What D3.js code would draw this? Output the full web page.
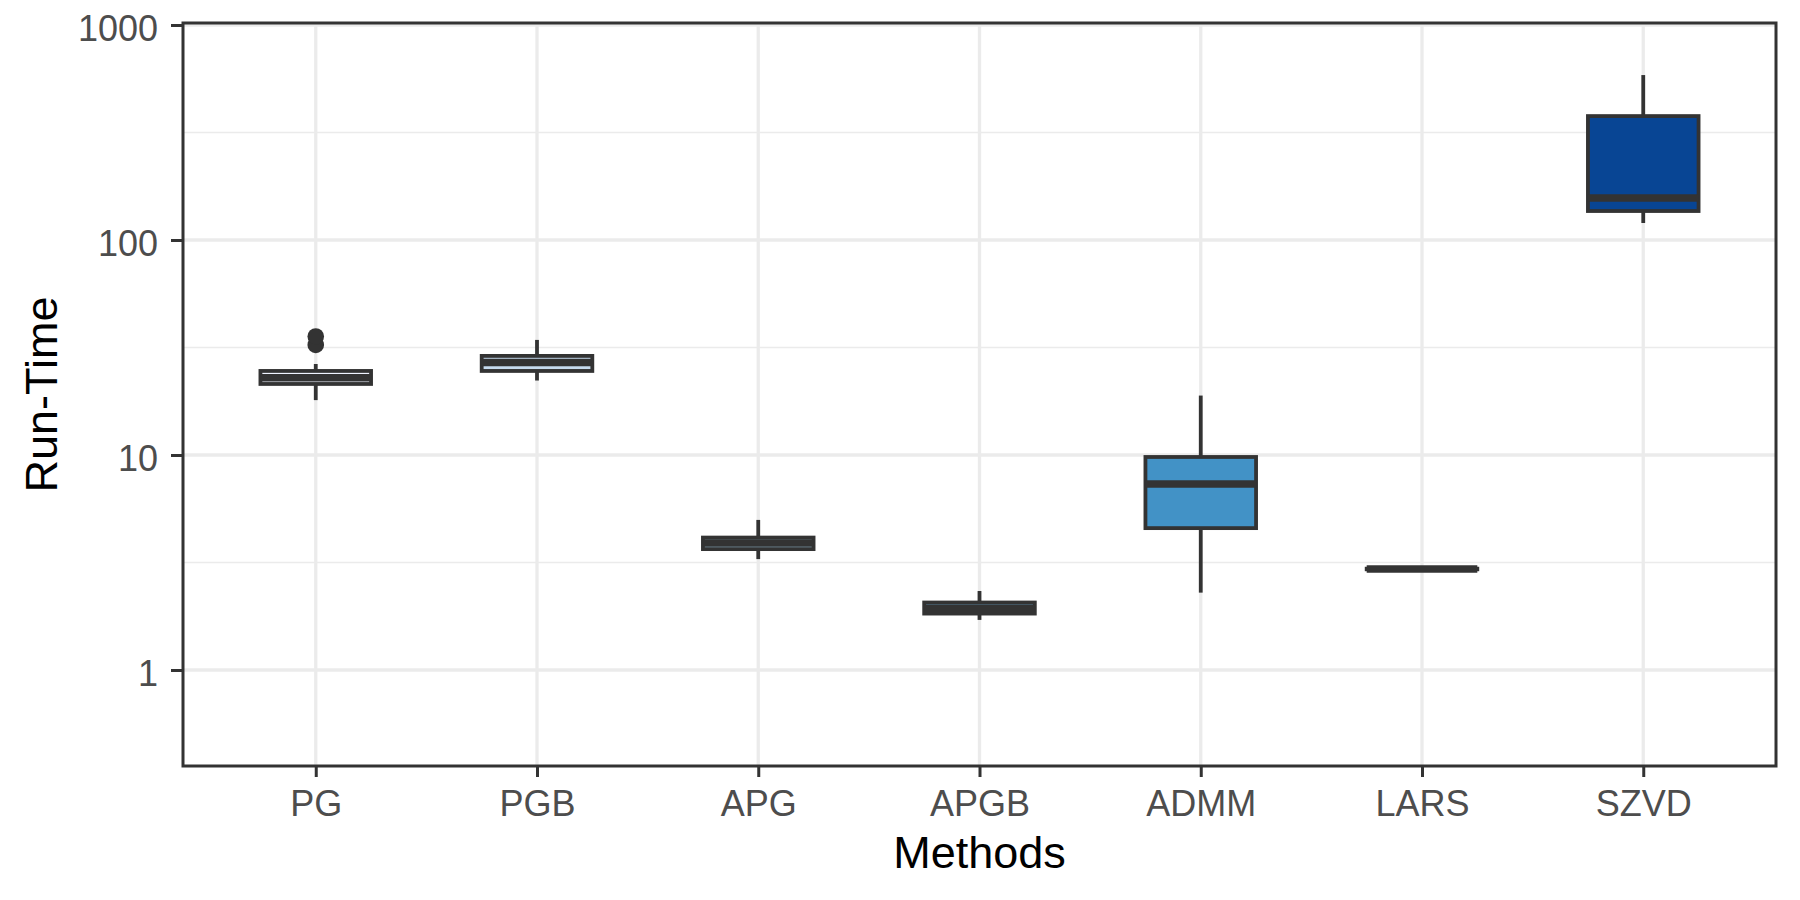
<!DOCTYPE html>
<html>
<head>
<meta charset="utf-8">
<script src="https://cdn.jsdelivr.net/npm/d3@7"></script>
<style>
  html, body { margin: 0; padding: 0; background: #fff; }
  svg text { font-family: "Liberation Sans", Arial, sans-serif; }
</style>
</head>
<body>
<script>
// box statistics (seconds, log scale)
const methods  = ["PG", "PGB", "APG", "APGB", "ADMM", "LARS", "SZVD"];
const fills    = ["#eff3ff", "#c6dbef", "#9ecae1", "#6baed6", "#4292c6", "#2171b5", "#084594"];
const lowers   = [18.0, 22.2, 3.28, 1.71, 2.29, 2.92, 120];
const q1s      = [21.4, 24.6, 3.65, 1.83, 4.57, 2.94, 136.4];
const medians  = [22.9, 26.9, 3.90, 1.94, 7.33, 2.95, 156.8];
const q3s      = [24.6, 28.9, 4.13, 2.06, 9.79, 2.96, 377];
const uppers   = [26.5, 34.3, 4.99, 2.33, 18.9, 2.98, 585];
const outliers = [[32.5, 35.6], [], [], [], [], [], []];
const yTicks   = [1, 10, 100, 1000];
const yMinor   = [Math.sqrt(10), Math.sqrt(1000), Math.sqrt(100000)];

const width = 1800, height = 900;
const pLeft = 183, pRight = 1776, pTop = 23, pBottom = 766;
const dark = "#333333";

const svg = d3.select("body").append("svg")
    .attr("width", width)
    .attr("height", height);

const x = d3.scalePoint()
    .domain(methods)
    .range([pLeft, pRight])
    .padding(0.6);
const y = d3.scaleLog()
    .domain([0.3577, 1021.6])
    .range([pBottom, pTop]);

const boxW = x.step() * 0.5;

// grid
svg.append("g").selectAll("line")
    .data(yMinor)
    .enter().append("line")
    .attr("x1", pLeft).attr("x2", pRight)
    .attr("y1", d => y(d)).attr("y2", d => y(d))
    .style("stroke", "#ebebeb").style("stroke-width", 1.7);
svg.append("g").selectAll("line")
    .data(yTicks)
    .enter().append("line")
    .attr("x1", pLeft).attr("x2", pRight)
    .attr("y1", d => y(d)).attr("y2", d => y(d))
    .style("stroke", "#ebebeb").style("stroke-width", 3.3);
svg.append("g").selectAll("line")
    .data(methods)
    .enter().append("line")
    .attr("x1", d => x(d)).attr("x2", d => x(d))
    .attr("y1", pTop).attr("y2", pBottom)
    .style("stroke", "#ebebeb").style("stroke-width", 3.3);

// boxes
const stats = methods.map((m, i) => ({
    m: m, fill: fills[i], lo: lowers[i], q1: q1s[i], med: medians[i], q3: q3s[i], hi: uppers[i], out: outliers[i]
}));

const boxes = svg.append("g").selectAll("g")
    .data(stats)
    .enter().append("g");

boxes.append("line")
    .attr("x1", d => x(d.m)).attr("x2", d => x(d.m))
    .attr("y1", d => y(d.hi)).attr("y2", d => y(d.q3))
    .style("stroke", dark).style("stroke-width", 3.8);
boxes.append("line")
    .attr("x1", d => x(d.m)).attr("x2", d => x(d.m))
    .attr("y1", d => y(d.q1)).attr("y2", d => y(d.lo))
    .style("stroke", dark).style("stroke-width", 3.8);
boxes.append("rect")
    .attr("x", d => x(d.m) - boxW / 2)
    .attr("width", boxW)
    .attr("y", d => y(d.q3))
    .attr("height", d => y(d.q1) - y(d.q3))
    .style("fill", d => d.fill)
    .style("stroke", dark)
    .style("stroke-width", 3.8);
boxes.append("line")
    .attr("x1", d => x(d.m) - boxW / 2).attr("x2", d => x(d.m) + boxW / 2)
    .attr("y1", d => y(d.med)).attr("y2", d => y(d.med))
    .style("stroke", dark).style("stroke-width", 7.5);
boxes.selectAll("circle")
    .data(d => d.out.map(v => ({ m: d.m, v: v })))
    .enter().append("circle")
    .attr("cx", d => x(d.m))
    .attr("cy", d => y(d.v))
    .attr("r", 8.3)
    .style("fill", dark);

// panel border
svg.append("rect")
    .attr("x", pLeft).attr("y", pTop)
    .attr("width", pRight - pLeft).attr("height", pBottom - pTop)
    .style("fill", "none")
    .style("stroke", dark)
    .style("stroke-width", 3);

// axes
const yAxis = d3.axisLeft(y)
    .tickValues(yTicks)
    .tickFormat(d3.format("d"))
    .tickSize(12)
    .tickPadding(13);
const gy = svg.append("g")
    .attr("transform", "translate(" + pLeft + ",0)")
    .call(yAxis);
gy.select(".domain").remove();
gy.selectAll(".tick line").style("stroke", dark).style("stroke-width", 3);
gy.selectAll(".tick text")
    .attr("dy", "0.417em")
    .style("font-size", "36px")
    .style("fill", "#4d4d4d");

const xAxis = d3.axisBottom(x)
    .tickSize(11)
    .tickPadding(13.4);
const gx = svg.append("g")
    .attr("transform", "translate(0," + pBottom + ")")
    .call(xAxis);
gx.select(".domain").remove();
gx.selectAll(".tick line").style("stroke", dark).style("stroke-width", 3);
gx.selectAll(".tick text")
    .style("font-size", "36px")
    .style("fill", "#4d4d4d");

// titles
svg.append("text")
    .attr("x", (pLeft + pRight) / 2)
    .attr("y", 868)
    .attr("text-anchor", "middle")
    .style("font-size", "45px")
    .style("fill", "#000")
    .text("Methods");
svg.append("text")
    .attr("transform", "translate(57," + ((pTop + pBottom) / 2) + ") rotate(-90)")
    .attr("text-anchor", "middle")
    .style("font-size", "45px")
    .style("fill", "#000")
    .text("Run-Time");
</script>
</body>
</html>
